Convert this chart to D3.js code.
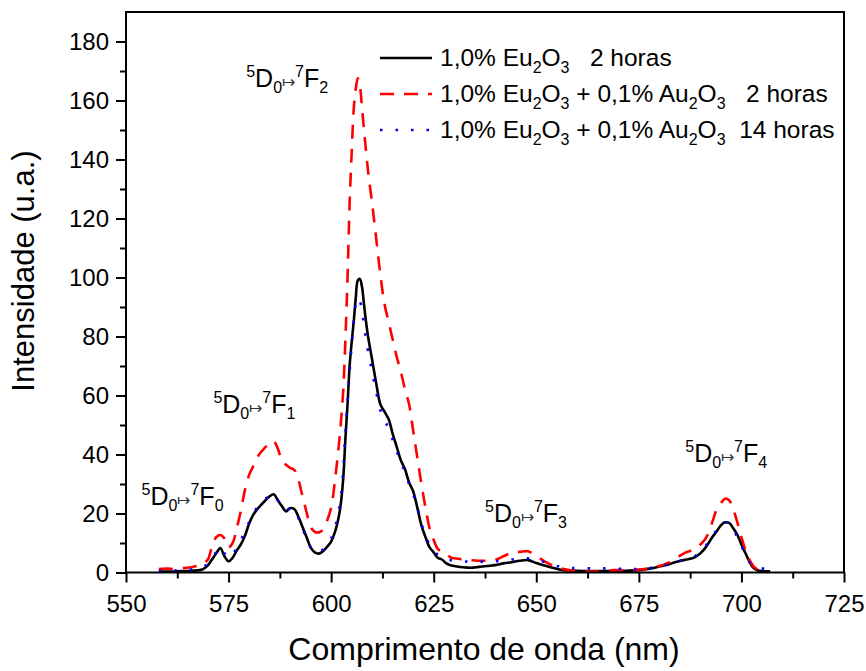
<!DOCTYPE html>
<html>
<head>
<meta charset="utf-8">
<script src="https://cdn.jsdelivr.net/npm/d3@7"></script>
<style>
  html, body { margin: 0; padding: 0; background: #fff; }
  svg { display: block; font-family: "Liberation Sans", Arial, Helvetica, sans-serif; }
  text { white-space: pre; }
</style>
</head>
<body>
<svg id="chart" width="866" height="671"></svg>
<script>
// Emission spectra of Eu3+ doped glasses, intensity in arbitrary units
const wavelength = [
  558, 560, 562, 564, 566, 568, 569, 570, 571, 572, 573, 574, 575, 576, 577, 578, 579, 580,
  581, 582, 583, 584, 585, 586, 587, 588, 589, 590, 591, 592, 593, 594, 595, 596, 597, 598,
  599, 600, 601, 602, 602.5, 603, 603.5, 604, 604.5, 605, 605.5, 606, 606.5, 607, 607.5, 608,
  608.5, 609, 610, 611, 612, 613, 614, 615, 616, 617, 618, 619, 620, 621, 622, 623, 624, 625,
  626, 627, 628, 629, 630, 632, 634, 636, 638, 640, 642, 644, 646, 648, 650, 652, 654, 656,
  658, 660, 663, 666, 669, 672, 675, 678, 680, 682, 684, 686, 688, 689, 690, 691, 692, 693,
  694, 695, 696, 697, 698, 699, 700, 701, 702, 703, 704, 705, 706, 707
];

// 1,0% Eu2O3, 2 horas
const euOnly2h = [
  0.3, 0.3, 0.4, 0.5, 0.6, 0.8, 1.3, 2.5, 4.5, 6.5, 8.3, 5.5, 3.8, 5, 7.5, 9.5, 12.5, 16.5,
  19.5, 21.5, 23, 24.5, 25.8, 26.5, 24.5, 22.5, 20.7, 21.8, 21.5, 19, 15.5, 12, 8.5, 6.8, 6.4, 7.2,
  8.7, 10.5, 14, 20, 25, 33, 46, 57, 70, 78, 85, 93, 99, 99.5, 97, 91,
  85, 80, 72, 64, 57, 54.5, 52, 47, 42.5, 38, 35, 30.5, 27.5, 22, 16, 12, 8.5, 6.8,
  5, 4.4, 3.2, 2.5, 2.2, 1.8, 1.6, 1.9, 2.2, 2.5, 3.1, 3.5, 4, 4.2, 3.2, 2.4, 1.6, 0.9,
  0.7, 0.6, 0.5, 0.5, 0.5, 0.6, 0.8, 1.4, 2, 2.6, 3.6, 4.2, 4.8, 5.5, 6.5, 8, 10, 12.2,
  14, 16, 17, 16.8, 15, 12.8, 9.5, 6.5, 3.5, 1.5, 0.7, 0.5, 0.4, 0.4
];

// 1,0% Eu2O3 + 0,1% Au2O3, 2 horas
const euAu2h = [
  1.2, 1.3, 1.2, 1.5, 1.8, 2.5, 3.2, 4.5, 9, 12, 12.7, 11.5, 8.5, 10, 15, 21, 28, 33,
  36, 39, 41, 42.5, 44, 44.5, 42, 38, 36.5, 35.5, 34.8, 31.5, 26, 20.5, 15.5, 13.8, 13.6, 14.5,
  17.5, 22, 32, 45, 53, 63, 80, 100, 125, 142, 157, 164, 167.5, 165, 158, 150,
  143, 136, 125, 113, 101, 91, 85, 79, 73, 68, 62, 57, 48, 39, 30, 22, 15, 11,
  8, 7, 6.5, 5.2, 4.8, 4.5, 4.2, 4, 4, 4.3, 5.5, 6.7, 7, 7.2, 5.5, 3.8, 2.4, 1.4,
  0.8, 0.5, 0.3, 0.4, 0.8, 0.8, 1, 1.6, 2.2, 3.2, 4.8, 6.5, 7.6, 8.5, 9.5, 11, 13.5, 17.5,
  21.5, 23.5, 25, 24.5, 21.5, 17, 12, 7.5, 4.2, 2, 1, null, null, null
];

// 1,0% Eu2O3 + 0,1% Au2O3, 14 horas
const euAu14h = [
  0.6, 0.6, 0.7, 0.8, 1, 1.3, 2, 3.2, 5, 7, 8.5, 6.5, 5, 6, 8.5, 11, 14, 17,
  20, 22, 23.5, 25, 26, 26.3, 24.5, 22.3, 21, 21.8, 21, 18.5, 15, 11.5, 8.5, 7, 6.8, 7.8,
  9.5, 11.5, 15.5, 22, 27, 36, 48, 58, 68, 77, 85, 91, 93, 92, 89, 84,
  79, 75, 68, 61, 55, 51.5, 49, 45, 41, 37.5, 34, 30, 26.5, 22, 16.5, 12.5, 9.5, 7.5,
  6, 5.3, 4.5, 4.2, 4.1, 3.8, 3.7, 3.7, 3.7, 3.8, 4, 4.4, 4.8, 4.8, 4.3, 3.5, 2.5, 2,
  1.6, 1.5, 1.4, 1.4, 1.3, 1.2, 1.2, 1.6, 2, 2.8, 3.6, 4.4, 5.2, 5.8, 7, 8.5, 10.5, 12.5,
  14.5, 16, 17, 16.5, 14.5, 12, 9, 6, 3.5, 2, 1.6, 1.4, 0.9, null
];

const xTicks = [550, 575, 600, 625, 650, 675, 700, 725];
const xMinorTicks = [562.5, 587.5, 612.5, 637.5, 662.5, 687.5, 712.5];
const yTicks = [0, 20, 40, 60, 80, 100, 120, 140, 160, 180];
const yMinorTicks = [10, 30, 50, 70, 90, 110, 130, 150, 170];

const xTitle = "Comprimento de onda (nm)";
const yTitle = "Intensidade (u.a.)";

// Legend entries: text pieces, "sub" pieces are subscripts
const legendEntries = [
  [["1,0% Eu"], ["2", "sub"], ["O"], ["3", "sub"], ["   2 horas"]],
  [["1,0% Eu"], ["2", "sub"], ["O"], ["3", "sub"], [" + 0,1% Au"], ["2", "sub"], ["O"], ["3", "sub"], ["   2 horas"]],
  [["1,0% Eu"], ["2", "sub"], ["O"], ["3", "sub"], [" + 0,1% Au"], ["2", "sub"], ["O"], ["3", "sub"], ["  14 horas"]]
];

// Transition labels 5D0 -> 7FJ, anchored at a wavelength / intensity point
const transitionJ = ["0", "1", "2", "3", "4"];
const transitionX = [553.8, 571.3, 579.3, 637.5, 686.3];
const transitionY = [23, 54, 164.5, 17, 37.5];

const width = 866, height = 671;
const plot = { left: 126, right: 844, top: 12, bottom: 572.5 };

const svg = d3.select("#chart");

const x = d3.scaleLinear().domain([550, 725]).range([plot.left, plot.right]);
const y = d3.scaleLinear().domain([0, 190]).range([plot.bottom, plot.top]);

// Series
const series = [
  { values: euOnly2h, color: "#000000", width: 2.6, dash: null },
  { values: euAu2h, color: "#ff0000", width: 2.6, dash: "14,10" },
  { values: euAu14h, color: "#0000ff", width: 2.6, dash: "2.5,13" }
];

const line = d3.line()
  .defined(d => d[1] !== null)
  .x(d => x(d[0]))
  .y(d => y(d[1]))
  .curve(d3.curveCatmullRom.alpha(0.5));

series.forEach(s => {
  const pts = wavelength.map((w, i) => [w, s.values[i]]);
  svg.append("path")
    .datum(pts)
    .attr("fill", "none")
    .attr("stroke", s.color)
    .attr("stroke-width", s.width)
    .attr("stroke-linejoin", "round")
    .attr("stroke-dasharray", s.dash)
    .attr("d", line);
});

// Axes
const fontSize = 24;
const xAxis = svg.append("g")
  .attr("transform", `translate(0,${plot.bottom})`)
  .call(d3.axisBottom(x).tickValues(xTicks).tickSize(10).tickPadding(12).tickSizeOuter(0));
const xMinor = svg.append("g")
  .attr("transform", `translate(0,${plot.bottom})`)
  .call(d3.axisBottom(x).tickValues(xMinorTicks).tickSize(6).tickFormat(""));
const yAxis = svg.append("g")
  .attr("transform", `translate(${plot.left},0)`)
  .call(d3.axisLeft(y).tickValues(yTicks).tickSize(10).tickPadding(7).tickSizeOuter(0));
const yMinor = svg.append("g")
  .attr("transform", `translate(${plot.left},0)`)
  .call(d3.axisLeft(y).tickValues(yMinorTicks).tickSize(6).tickFormat(""));

[xAxis, xMinor, yAxis, yMinor].forEach(g => {
  g.select(".domain").remove();
  g.selectAll(".tick line").attr("stroke", "#000").attr("stroke-width", 2);
  g.selectAll(".tick text")
    .attr("fill", "#000")
    .attr("font-size", fontSize)
    .attr("font-family", "'Liberation Sans', Arial, sans-serif");
});

// Frame
svg.append("rect")
  .attr("x", plot.left)
  .attr("y", plot.top)
  .attr("width", plot.right - plot.left)
  .attr("height", plot.bottom - plot.top)
  .attr("fill", "none")
  .attr("stroke", "#000")
  .attr("stroke-width", 2);

// Axis titles
svg.append("text")
  .attr("x", 484)
  .attr("y", 660)
  .attr("text-anchor", "middle")
  .attr("font-size", 32)
  .attr("fill", "#000")
  .text(xTitle);

svg.append("text")
  .attr("transform", `translate(34,${271}) rotate(-90)`)
  .attr("text-anchor", "middle")
  .attr("font-size", 31)
  .attr("fill", "#000")
  .text(yTitle);

// Legend
const legendX = 380, legendText = 440, legendBase = [66, 102, 138];
legendEntries.forEach((parts, i) => {
  const s = series[i];
  svg.append("line")
    .attr("x1", legendX).attr("x2", legendX + 52)
    .attr("y1", legendBase[i] - 8).attr("y2", legendBase[i] - 8)
    .attr("stroke", s.color)
    .attr("stroke-width", s.width)
    .attr("stroke-dasharray", s.dash);
  const t = svg.append("text")
    .attr("x", legendText)
    .attr("y", legendBase[i])
    .attr("font-size", 24.5)
    .attr("fill", "#000");
  let shift = 0;
  parts.forEach(([str, kind]) => {
    const dy = kind === "sub" ? 7 - shift : -shift;
    shift = kind === "sub" ? 7 : 0;
    t.append("tspan")
      .attr("dy", dy)
      .attr("font-size", kind === "sub" ? 16 : 24.5)
      .text(str);
  });
});

// Transition labels
transitionJ.forEach((j, i) => {
  const t = svg.append("text")
    .attr("x", x(transitionX[i]))
    .attr("y", y(transitionY[i]))
    .attr("font-size", 25)
    .attr("fill", "#000");
  t.append("tspan").attr("font-size", 16).attr("dy", -10).text("5");
  t.append("tspan").attr("font-size", 25).attr("dy", 10).text("D");
  t.append("tspan").attr("font-size", 16).attr("dy", 6).text("0");
  t.append("tspan").attr("font-size", 16).attr("dy", -6).attr("fill", "#333").text("\u21A6");
  t.append("tspan").attr("font-size", 16).attr("dy", -10).text("7");
  t.append("tspan").attr("font-size", 25).attr("dy", 10).text("F");
  t.append("tspan").attr("font-size", 16).attr("dy", 6).text(j);
});
</script>
</body>
</html>
